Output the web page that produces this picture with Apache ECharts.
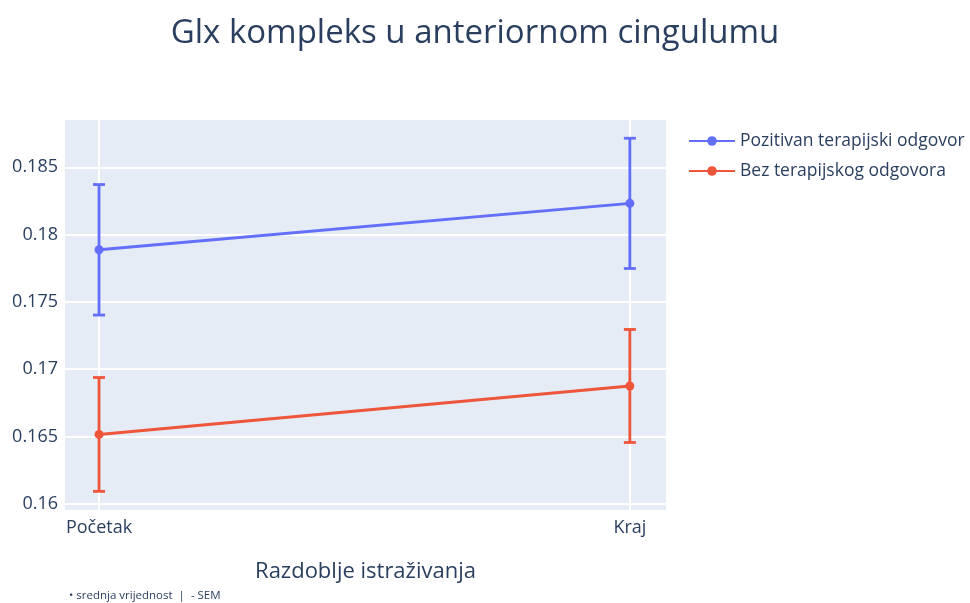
<!DOCTYPE html>
<html>
<head>
<meta charset="utf-8">
<script src="https://cdn.jsdelivr.net/npm/echarts@6/dist/echarts.min.js"></script>
<style>
  html, body { margin: 0; padding: 0; background: #fff; }
  #main { width: 970px; height: 603px; }
</style>
</head>
<body>
<div id="main"></div>
<script>
// podaci: srednja vrijednost i SEM po razdoblju
const categories = ['Početak', 'Kraj'];
const pozitivanMean = [0.17887, 0.18232];
const pozitivanSem = [0.00485, 0.00484];
const bezMean = [0.16515, 0.16875];
const bezSem = [0.00423, 0.0042];

const seriesNames = ['Pozitivan terapijski odgovor', 'Bez terapijskog odgovora'];
const blue = '#636efa';
const red = '#EF553B';
const textColor = '#2a3f5f';
const font = 'Open Sans';

const chart = echarts.init(document.getElementById('main'), null, { renderer: 'canvas' });

function lineData(means) {
  return means.map((m, i) => [i, m]);
}

function errorData(means, sems) {
  return means.map((m, i) => [i, m - sems[i], m + sems[i]]);
}

// error bar sa kapicama
function renderError(color) {
  return function (params, api) {
    const x = api.value(0);
    const lo = api.coord([x, api.value(1)]);
    const hi = api.coord([x, api.value(2)]);
    const cap = 6;
    const style = { stroke: color, lineWidth: 2.8 };
    return {
      type: 'group',
      children: [
        { type: 'line', shape: { x1: lo[0], y1: lo[1], x2: hi[0], y2: hi[1] }, style },
        { type: 'line', shape: { x1: hi[0] - cap, y1: hi[1], x2: hi[0] + cap, y2: hi[1] }, style },
        { type: 'line', shape: { x1: lo[0] - cap, y1: lo[1], x2: lo[0] + cap, y2: lo[1] }, style }
      ]
    };
  };
}

const option = {
  backgroundColor: '#fff',
  animation: false,
  title: {
    text: 'Glx kompleks u anteriornom cingulumu',
    left: 470,
    textAlign: 'center',
    top: 12,
    textStyle: { fontFamily: font, fontSize: 33, fontWeight: 'normal', color: textColor }
  },
  legend: {
    left: 683,
    top: 125,
    orient: 'vertical',
    itemWidth: 46,
    itemHeight: 12,
    itemGap: 8,
    data: seriesNames,
    textStyle: { fontFamily: font, fontSize: 17.5, lineHeight: 22, color: textColor }
  },
  grid: { left: 64, right: 303, top: 119, bottom: 92, backgroundColor: '#E5ECF6', show: true, borderWidth: 0 },
  xAxis: {
    type: 'value',
    min: -0.066,
    max: 1.07,
    splitNumber: 1,
    name: 'Razdoblje istraživanja',
    nameLocation: 'middle',
    nameGap: 50,
    nameTextStyle: { fontFamily: font, fontSize: 22, color: textColor },
    axisLine: { show: false },
    axisTick: { show: false },
    splitLine: { show: true, lineStyle: { color: '#fff', width: 2 } },
    axisLabel: {
      showMinLabel: false,
      showMaxLabel: false,
      margin: 8,
      fontFamily: font,
      fontSize: 18,
      color: textColor,
      formatter: v => categories[Math.round(v)] || ''
    }
  },
  yAxis: {
    type: 'value',
    min: 0.15946,
    max: 0.18859,
    splitNumber: 6,
    axisLine: { show: false },
    axisTick: { show: false },
    splitLine: { show: true, lineStyle: { color: '#fff', width: 2 } },
    axisLabel: {
      showMinLabel: false,
      showMaxLabel: false,
      margin: 6,
      fontFamily: font,
      fontSize: 18,
      color: textColor,
      formatter: v => String(parseFloat(v.toFixed(4)))
    }
  },
  graphic: [{
    type: 'text',
    left: 69,
    top: 590,
    style: { text: '• srednja vrijednost  |  - SEM', fontFamily: font, fontSize: 11.5, fill: textColor }
  }],
  series: [
    {
      type: 'custom',
      name: seriesNames[0] + ' SEM',
      renderItem: renderError(blue),
      data: errorData(pozitivanMean, pozitivanSem),
      z: 2
    },
    {
      type: 'custom',
      name: seriesNames[1] + ' SEM',
      renderItem: renderError(red),
      data: errorData(bezMean, bezSem),
      z: 2
    },
    {
      type: 'line',
      name: seriesNames[0],
      data: lineData(pozitivanMean),
      color: blue,
      symbol: 'circle',
      symbolSize: 9,
      lineStyle: { width: 3 },
      z: 3
    },
    {
      type: 'line',
      name: seriesNames[1],
      data: lineData(bezMean),
      color: red,
      symbol: 'circle',
      symbolSize: 9,
      lineStyle: { width: 3 },
      z: 3
    }
  ]
};

chart.setOption(option);
</script>
</body>
</html>
